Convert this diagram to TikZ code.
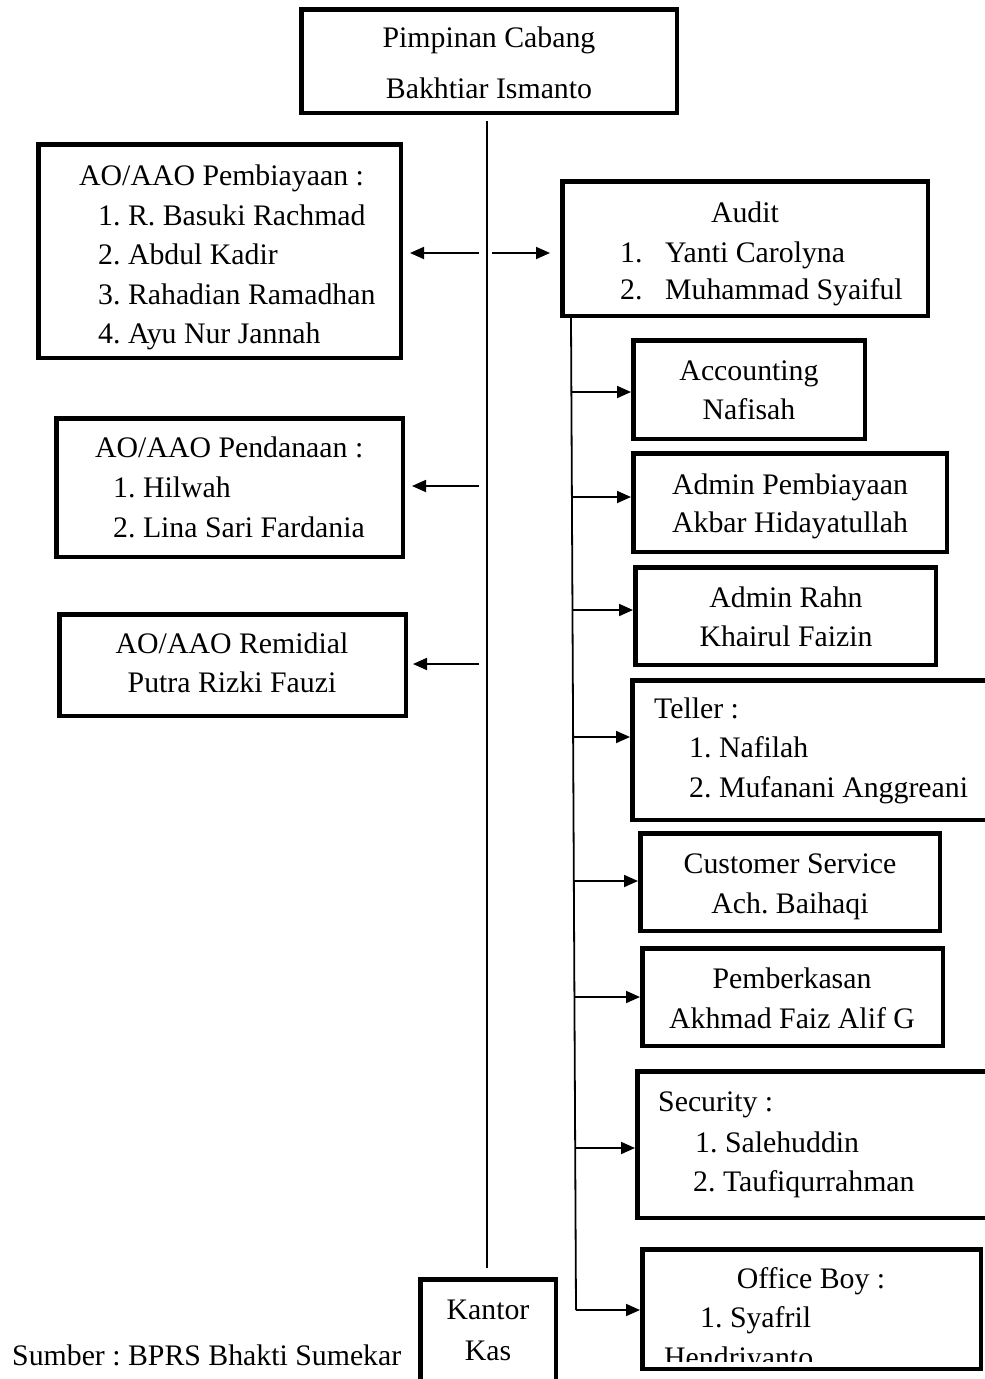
\documentclass[tikz,border=0pt]{standalone}
\usepackage{fontspec}
\setmainfont{Liberation Serif}
\usetikzlibrary{arrows.meta}
\frenchspacing
\newcommand\mybox[5]{\node[box, minimum width={#3-#2-4.5}, minimum height={#5-#4-4.5}] (#1) at ({(#2+#3)/2},{(#4+#5)/2}) {};}
\begin{document}
\begin{tikzpicture}[x=1pt,y=-1pt,
  box/.style={draw, line width=4.5pt, inner sep=0pt, fill=white},
  txt/.style={inner sep=0pt, font=\fontsize{29.8}{36}\selectfont},
  ctxt/.style={txt, anchor=base},
  ltxt/.style={txt, anchor=base west},
  conn/.style={line width=1.8pt},
  arr/.style={conn, -{Triangle[length=14pt,width=12pt]}}]
\useasboundingbox (0,0) rectangle (985,1379);
\clip (0,0) rectangle (985,1379);
\fill[white] (0,0) rectangle (985,1379);

% boxes
\mybox{top}{299}{679}{7}{115}
\mybox{pemb}{36}{403}{142}{360}
\mybox{pend}{54}{405}{416}{559}
\mybox{remid}{57}{408}{612}{718}
\mybox{audit}{560}{930}{179}{318}
\mybox{acc}{631}{867}{338}{441}
\mybox{admp}{631}{949}{451}{554}
\mybox{rahn}{633}{938}{565}{667}
\mybox{teller}{630}{1000}{678}{822}
\mybox{cs}{638}{942}{831}{933}
\mybox{berkas}{640}{945}{946}{1048}
\mybox{secu}{635}{1000}{1069}{1220}
\mybox{ob}{640}{983}{1247}{1371}
\mybox{kas}{418}{558}{1277}{1410}

% texts
\node[ctxt] (t1) at (489,47) {Pimpinan Cabang};
\node[ctxt] (t2) at (489,98) {Bakhtiar Ismanto};

\node[ltxt] (p0) at (79,185) {AO/AAO Pembiayaan :};
\node[ltxt] (p1) at (98,225) {1. R. Basuki Rachmad};
\node[ltxt] (p2) at (98,264) {2. Abdul Kadir};
\node[ltxt] (p3) at (98,304) {3. Rahadian Ramadhan};
\node[ltxt] (p4) at (98,343) {4. Ayu Nur Jannah};

\node[ltxt] (d0) at (95,457) {AO/AAO Pendanaan :};
\node[ltxt] (d1) at (113,497) {1. Hilwah};
\node[ltxt] (d2) at (113,537) {2. Lina Sari Fardania};

\node[ctxt] (r0) at (232,653) {AO/AAO Remidial};
\node[ctxt] (r1) at (232,692) {Putra Rizki Fauzi};

\node[ctxt] (a0) at (745,222) {Audit};
\node[ltxt] (a1n) at (620,262) {1.};
\node[ltxt] (a1) at (665,262) {Yanti Carolyna};
\node[ltxt] (a2n) at (620,299) {2.};
\node[ltxt] (a2) at (665,299) {Muhammad Syaiful};

\node[ctxt] (c0) at (749,380) {Accounting};
\node[ctxt] (c1) at (749,419) {Nafisah};

\node[ctxt] (ap0) at (790,494) {Admin Pembiayaan};
\node[ctxt] (ap1) at (790,532) {Akbar Hidayatullah};

\node[ctxt] (ar0) at (786,607) {Admin Rahn};
\node[ctxt] (ar1) at (786,646) {Khairul Faizin};

\node[ltxt] (te0) at (654,718) {Teller :};
\node[ltxt] (te1) at (689,757) {1. Nafilah};
\node[ltxt] (te2) at (689,797) {2. Mufanani Anggreani};

\node[ctxt] (cs0) at (790,873) {Customer Service};
\node[ctxt] (cs1) at (790,913) {Ach. Baihaqi};

\node[ctxt] (b0) at (792,988) {Pemberkasan};
\node[ctxt] (b1) at (792,1028) {Akhmad Faiz Alif G};

\node[ltxt] (s0) at (658,1111) {Security :};
\node[ltxt] (s1) at (695,1152) {1. Salehuddin};
\node[ltxt] (s2) at (693,1191) {2. Taufiqurrahman};

\node[ctxt] (o0) at (811,1288) {Office Boy :};
\node[ltxt] (o1) at (700,1327) {1. Syafril};
\begin{scope}
\clip (643,1250) rectangle (980,1361);
\node[ltxt] (o2) at (664,1367) {Hendriyanto};
\end{scope}

\node[ctxt] (k0) at (488,1319) {Kantor};
\node[ctxt] (k1) at (488,1360) {Kas};

\node[ltxt] (src) at (12,1365) {Sumber : BPRS Bhakti Sumekar};

% main line
\coordinate (m1) at (487,121);
\coordinate (m2) at (487,1268);
\draw[conn] (m1) -- (m2);

% arrows from main line
\coordinate (lp) at (479,253);
\coordinate (rp) at (492,253);
\coordinate (ld) at (479,486);
\coordinate (lr) at (479,664);
\draw[arr, shorten >=7pt] (lp) -- (pemb.east |- lp);
\draw[arr, shorten >=10pt] (rp) -- (audit.west |- rp);
\draw[arr, shorten >=7pt] (ld) -- (pend.east |- ld);
\draw[arr, shorten >=5pt] (lr) -- (remid.east |- lr);

% secondary line
\coordinate (s1a) at (571,318);
\coordinate (s1b) at (576,1310);
\draw[conn] (s1a) -- (s1b);
\draw[arr] (s1b) -- (ob.west |- s1b);
\coordinate (h1) at (571.4,392);
\coordinate (h2) at (571.9,497);
\coordinate (h3) at (572.5,610);
\coordinate (h4) at (573.1,737);
\coordinate (h5) at (573.8,881);
\coordinate (h6) at (574.4,997);
\coordinate (h7) at (575.2,1148);
\draw[arr] (h1) -- (acc.west |- h1);
\draw[arr] (h2) -- (admp.west |- h2);
\draw[arr] (h3) -- (rahn.west |- h3);
\draw[arr] (h4) -- (teller.west |- h4);
\draw[arr] (h5) -- (cs.west |- h5);
\draw[arr] (h6) -- (berkas.west |- h6);
\draw[arr] (h7) -- (secu.west |- h7);
\end{tikzpicture}
\end{document}
